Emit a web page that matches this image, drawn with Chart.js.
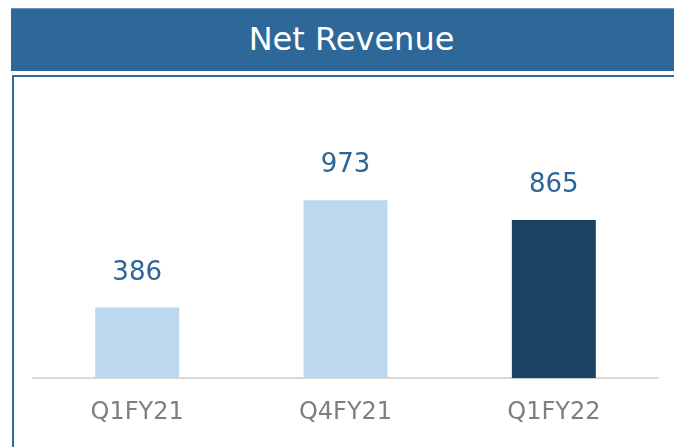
<!DOCTYPE html>
<html><head><meta charset="utf-8">
<script src="https://cdn.jsdelivr.net/npm/chart.js@4/dist/chart.umd.min.js"></script>
<style>
html,body{margin:0;padding:0;width:674px;height:447px;overflow:hidden;background:#fff;font-family:"DejaVu Sans",Verdana,sans-serif;}
#bar{position:absolute;left:11px;top:8px;width:681px;height:63px;background:#2e6898;border-top:1px solid #6f93b7;box-sizing:border-box;color:#fff;font-size:32px;line-height:61px;text-align:center;}
#frame{position:absolute;left:12px;top:75px;width:700px;height:400px;border-top:2px solid #2f6b9f;border-left:2px solid #2f6b9f;}
#wrap{position:absolute;left:0;top:0;width:674px;height:447px;}
</style></head>
<body>
<div id="bar">Net Revenue</div>
<div id="frame"></div>
<div id="wrap"><canvas id="c" width="674" height="447"></canvas></div>
<script>
const categories = ["Q1FY21", "Q4FY21", "Q1FY22"];
const revenue = [386, 973, 865];
const barColors = ["#bdd7ee", "#bdd7ee", "#1e4465"];

const labelPlugin = {
  id: 'barLabels',
  afterDatasetsDraw(chart) {
    const ctx = chart.ctx;
    const meta = chart.getDatasetMeta(0);
    ctx.save();
    ctx.font = '26px "DejaVu Sans", Verdana, sans-serif';
    ctx.fillStyle = '#2e6496';
    ctx.textAlign = 'center';
    ctx.textBaseline = 'alphabetic';
    meta.data.forEach((el, i) => {
      ctx.fillText(String(revenue[i]), el.x, el.y - 28);
    });
    ctx.restore();
  }
};

new Chart(document.getElementById('c'), {
  type: 'bar',
  data: {
    labels: categories,
    datasets: [{ data: revenue, backgroundColor: barColors, barPercentage: 0.403, categoryPercentage: 1 }]
  },
  options: {
    responsive: false,
    animation: false,
    layout: { padding: { left: 33, right: 16, top: 122, bottom: 0 } },
    plugins: { legend: { display: false }, tooltip: { enabled: false }, title: { display: false } },
    scales: {
      x: {
        grid: { display: false, drawTicks: false },
        border: { display: true, color: '#d9d9d9', width: 2 },
        ticks: { color: '#7f7f7f', font: { family: '"DejaVu Sans", Verdana, sans-serif', size: 24 }, padding: 20 }
      },
      y: { display: false, min: 0, max: 1400 }
    }
  },
  plugins: [labelPlugin]
});
</script>
</body></html>
